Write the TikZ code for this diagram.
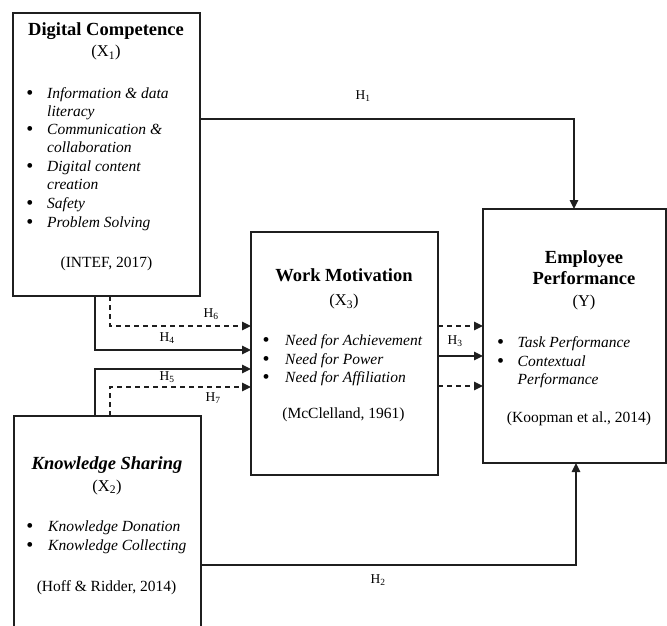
\documentclass[tikz,border=0pt]{standalone}
\usepackage{fontspec}
\setmainfont{Liberation Serif}
\usetikzlibrary{arrows.meta}
\tikzset{
  box/.style={draw=black!88, line width=1.7pt, rectangle, inner sep=0pt, outer sep=0pt},
  conn/.style={draw=black!88, line width=1.6pt},
  arr/.style={conn, -{Triangle[length=9pt,width=8.5pt]}},
  dsh/.style={dash pattern=on 5pt off 4pt},
  ttl/.style={font=\fontsize{18.5}{20}\selectfont\bfseries, anchor=mid, inner sep=0pt},
  var/.style={font=\fontsize{16.5}{18}\selectfont, anchor=mid, inner sep=0pt},
  itm/.style={font=\fontsize{15.5}{17}\selectfont\itshape, anchor=mid west, inner sep=0pt},
  blt/.style={font=\fontsize{20}{20}\selectfont, anchor=center, inner sep=0pt},
  src/.style={font=\fontsize{15.5}{17}\selectfont, anchor=mid, inner sep=0pt},
  hl/.style={font=\fontsize{13.5}{15}\selectfont, anchor=mid, inner sep=0pt},
}
\begin{document}
\begin{tikzpicture}[x=1pt,y=-1pt]
\useasboundingbox (0,0) rectangle (667,626);
\fill[white] (0,0) rectangle (667,626);
% boxes
\node[box, minimum width=187pt, minimum height=283pt] (X1) at (106.5,154.5) {};
\node[box, minimum width=187pt, minimum height=226pt] (X2) at (107.5,529) {};
\node[box, minimum width=187pt, minimum height=243pt] (X3) at (344.5,353.5) {};
\node[box, minimum width=183pt, minimum height=254pt] (Y) at (574.5,336) {};

% X1 text
\node[ttl] (t1a) at (106,33) {Digital Competence};
\node[var] (t1b) at (106,54.5) {(X\textsubscript{1})};
\node[blt] (b11) at (30,95) {\textbullet};
\node[itm] (i11) at (47,96.5) {Information \& data};
\node[itm] (i12) at (47,114) {literacy};
\node[blt] (b12) at (30,131) {\textbullet};
\node[itm] (i13) at (47,132.5) {Communication \&};
\node[itm] (i14) at (47,150.5) {collaboration};
\node[blt] (b13) at (30,167.5) {\textbullet};
\node[itm] (i15) at (47,169) {Digital content};
\node[itm] (i16) at (47,187) {creation};
\node[blt] (b14) at (30,205) {\textbullet};
\node[itm] (i17) at (47,206.5) {Safety};
\node[blt] (b15) at (30,224) {\textbullet};
\node[itm] (i18) at (47,225.5) {Problem Solving};
\node[src] (s1) at (106.5,265.5) {(INTEF, 2017)};

% X2 text
\node[ttl, font=\fontsize{18.5}{20}\selectfont\bfseries\itshape] (t2a) at (107,467) {Knowledge Sharing};
\node[var] (t2b) at (107,489) {(X\textsubscript{2})};
\node[blt] (b21) at (30,528) {\textbullet};
\node[itm] (i21) at (48,529.5) {Knowledge Donation};
\node[blt] (b22) at (30,547) {\textbullet};
\node[itm] (i22) at (48,548.5) {Knowledge Collecting};
\node[src] (s2) at (106.5,589) {(Hoff \& Ridder, 2014)};

% X3 text
\node[ttl] (t3a) at (344,279) {Work Motivation};
\node[var] (t3b) at (344,303.5) {(X\textsubscript{3})};
\node[blt] (b31) at (266,341.5) {\textbullet};
\node[itm] (i31) at (285,343) {Need for Achievement};
\node[blt] (b32) at (266,360.5) {\textbullet};
\node[itm] (i32) at (285,362) {Need for Power};
\node[blt] (b33) at (266,379) {\textbullet};
\node[itm] (i33) at (285,380.5) {Need for Affiliation};
\node[src] (s3) at (343.5,416.5) {(McClelland, 1961)};

% Y text
\node[ttl] (tya) at (584,261) {Employee};
\node[ttl] (tyb) at (584,282) {Performance};
\node[var] (tyc) at (584,304.5) {(Y)};
\node[blt] (by1) at (500.5,344) {\textbullet};
\node[itm] (iy1) at (517.5,345.5) {Task Performance};
\node[blt] (by2) at (500.5,362.5) {\textbullet};
\node[itm] (iy2) at (517.5,364) {Contextual};
\node[itm] (iy3) at (517.5,382) {Performance};
\node[src] (sy) at (579,420.5) {(Koopman et al., 2014)};

% bend coordinates
\coordinate (h1) at (574,119);
\coordinate (h2) at (576,565);
\coordinate (h4) at (95,350);
\coordinate (h6) at (110,326);
\coordinate (h5) at (95,369);
\coordinate (h7) at (110,387);
\coordinate (r1) at (438,326);
\coordinate (r2) at (438,356);
\coordinate (r3) at (438,386);

% connectors
\draw[arr] (h1 -| X1.east) -- (h1) -- (h1 |- Y.north);
\draw[arr] (h2 -| X2.east) -- (h2) -- (h2 |- Y.south);
\draw[arr] (h4 |- X1.south) -- (h4) -- (h4 -| X3.west);
\draw[arr, dsh] (h6 |- X1.south) -- (h6) -- (h6 -| X3.west);
\draw[arr] (h5 |- X2.north) -- (h5) -- (h5 -| X3.west);
\draw[arr, dsh] (h7 |- X2.north) -- (h7) -- (h7 -| X3.west);
\draw[arr, dsh] (r1 -| X3.east) -- (r1 -| Y.west);
\draw[arr] (r2 -| X3.east) -- (r2 -| Y.west);
\draw[arr, dsh] (r3 -| X3.east) -- (r3 -| Y.west);

% labels
\node[hl] (H1) at (363,97) {H\textsubscript{1}};
\node[hl] (H2) at (378,581.5) {H\textsubscript{2}};
\node[hl] (H3) at (455,342.5) {H\textsubscript{3}};
\node[hl] (H4) at (167,339) {H\textsubscript{4}};
\node[hl] (H5) at (167,378) {H\textsubscript{5}};
\node[hl] (H6) at (211,315.5) {H\textsubscript{6}};
\node[hl] (H7) at (213,399.5) {H\textsubscript{7}};
\end{tikzpicture}
\end{document}
